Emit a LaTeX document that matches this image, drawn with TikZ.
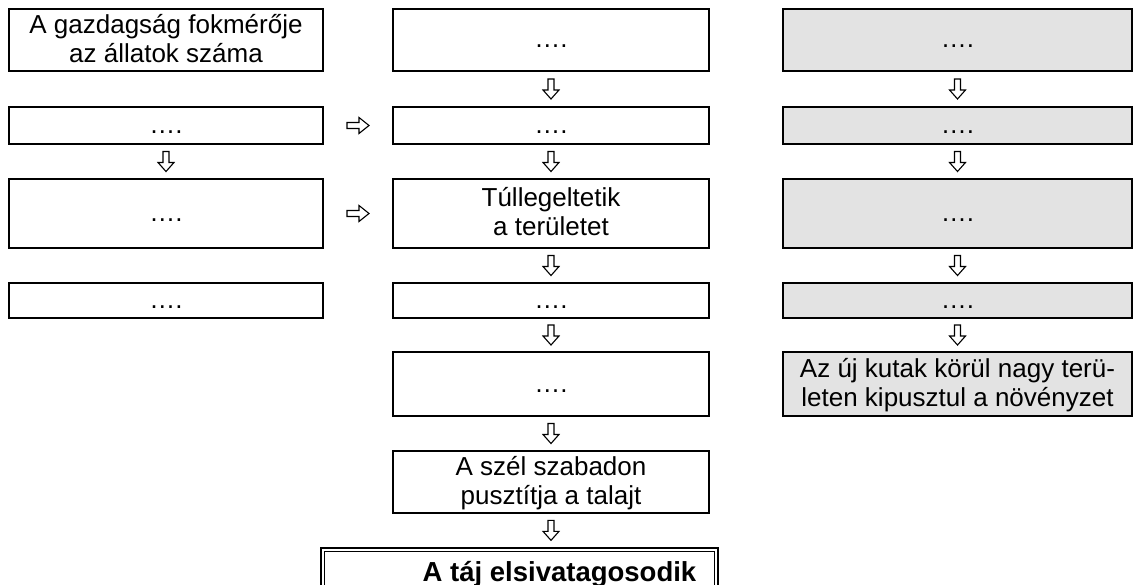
\documentclass[tikz,border=0pt]{standalone}
\usepackage{fontspec}
\setmainfont{Liberation Sans}
\definecolor{boxgray}{RGB}{227,227,227}
\begin{document}
\begin{tikzpicture}[x=1pt,y=-1pt,
  box/.style={draw, line width=2.2pt, rectangle, inner sep=0pt, align=center,
    font=\fontsize{26}{29}\selectfont, text height=22pt, text depth=6pt},
  twoline/.style={text height=51pt, text depth=6pt},
  graybox/.style={box, fill=boxgray},
  lcol/.style={minimum width=314pt},
  mcol/.style={minimum width=316pt},
  rcol/.style={minimum width=349pt},
  arrowline/.style={line width=1.1pt, fill=white, line join=miter},
  dnarr/.pic={\draw[arrowline] (-3,-10) -- (3,-10) -- (3,1) -- (8,1) -- (0,10) -- (-8,1) -- (-3,1) -- cycle;},
  rtarr/.pic={\draw[arrowline] (-11,-3) -- (1,-3) -- (1,-8) -- (11,0) -- (1,8) -- (1,3) -- (-11,3) -- cycle;}
]
\useasboundingbox[fill=white] (0,0) rectangle (1134,585);
\clip (0,0) rectangle (1134,585);

% left column
\node[box, lcol, minimum height=62pt, twoline] (l1) at (166,40) {A gazdagság fokmérője\\az állatok száma};
\node[box, lcol, minimum height=37pt] (l2) at (166,125.5) {….};
\node[box, lcol, minimum height=69pt] (l3) at (166,213.5) {….};
\node[box, lcol, minimum height=35pt] (l4) at (166,300.5) {….};

% middle column
\node[box, mcol, minimum height=62pt] (m1) at (551,40) {….};
\node[box, mcol, minimum height=37pt] (m2) at (551,125.5) {….};
\node[box, mcol, minimum height=69pt, twoline] (m3) at (551,213.5) {Túllegeltetik\\a területet};
\node[box, mcol, minimum height=35pt] (m4) at (551,300.5) {….};
\node[box, mcol, minimum height=64pt] (m5) at (551,384) {….};
\node[box, mcol, minimum height=62pt, twoline] (m6) at (551,482) {A szél szabadon\\pusztítja a talajt};

% right column
\node[graybox, rcol, minimum height=62pt] (r1) at (957.5,40) {….};
\node[graybox, rcol, minimum height=37pt] (r2) at (957.5,125.5) {….};
\node[graybox, rcol, minimum height=69pt] (r3) at (957.5,213.5) {….};
\node[graybox, rcol, minimum height=35pt] (r4) at (957.5,300.5) {….};
\node[graybox, rcol, minimum height=64pt, twoline] (r5) at (957.5,384) {Az új kutak körül nagy terü-\\leten kipusztul a növényzet};

% final box
\node[box, line width=2.8pt, minimum width=397pt, minimum height=64pt, text height=22pt, text depth=20pt,
  font=\fontsize{27.5}{30}\selectfont\bfseries] (fin) at (519.5,580) {\hspace*{80pt}A táj elsivatagosodik};
\draw[line width=1pt] ([xshift=5pt,yshift=-5pt]fin.north west) rectangle ([xshift=-5pt,yshift=5pt]fin.south east);

% down arrows
\foreach \a/\b in {l2/l3, m1/m2, m2/m3, m3/m4, m4/m5, m5/m6, m6/fin, r1/r2, r2/r3, r3/r4, r4/r5} {
  \path (\a.south) -- (\a.south |- \b.north) coordinate[midway] (t);
  \pic at (t) {dnarr};
}
% right arrows
\foreach \a/\b in {l2/m2, l3/m3} {
  \path (\a.east) -- (\b.west) coordinate[midway] (t);
  \pic at (t) {rtarr};
}
\end{tikzpicture}
\end{document}
